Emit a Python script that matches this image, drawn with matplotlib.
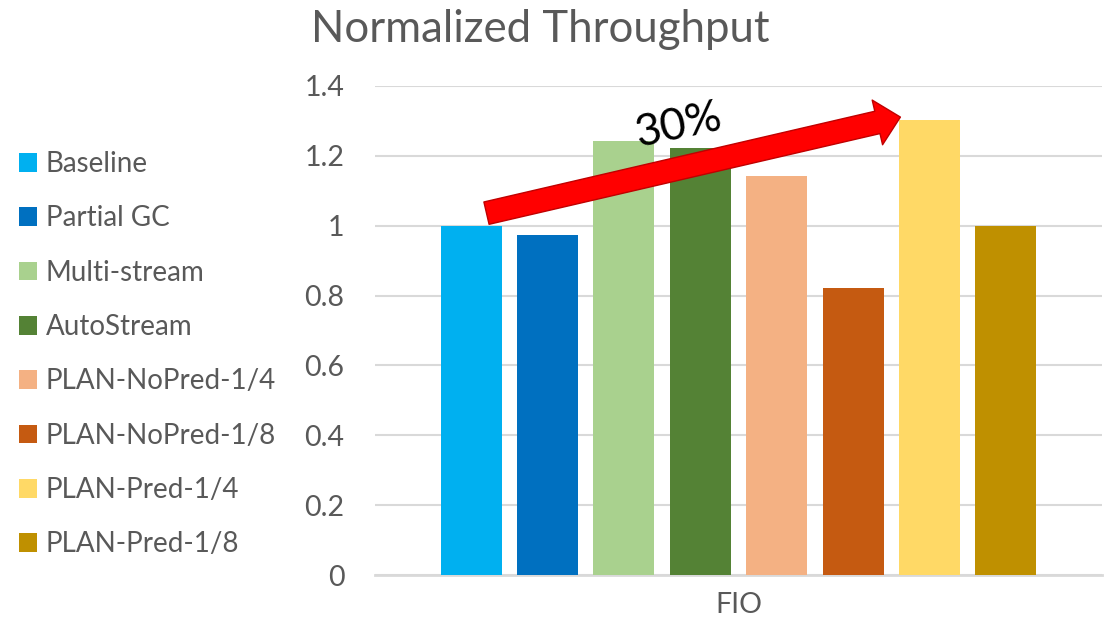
import numpy as np
import matplotlib
matplotlib.use('Agg')
import matplotlib.pyplot as plt
from matplotlib.patches import FancyArrowPatch

plt.rcParams['font.family'] = ['Lato', 'DejaVu Sans']

# data
series = ['Baseline', 'Partial GC', 'Multi-stream', 'AutoStream',
          'PLAN-NoPred-1/4', 'PLAN-NoPred-1/8', 'PLAN-Pred-1/4', 'PLAN-Pred-1/8']
throughput = [1.0, 0.973, 1.243, 1.222, 1.142, 0.822, 1.303, 1.0]
colors = ['#00B0F0', '#0070C0', '#A9D18E', '#548235',
          '#F4B183', '#C55A11', '#FFD966', '#BF9000']
category = 'FIO'

grey = '#595959'

fig = plt.figure(figsize=(11.09, 6.29), dpi=100)
ax = fig.add_axes([375/1109, 54/629, 727/1109, 489/629])

n = len(series)
pos = np.arange(n) - (n - 1) / 2
bars = []
for p, v, c, s in zip(pos, throughput, colors, series):
    b = ax.bar(p, v, width=0.8, color=c, label=s, zorder=3)
    bars.append(b)

ax.set_xlim(-4.76, 4.76)
ax.set_ylim(0, 1.4)
ax.set_yticks(np.arange(0, 1.41, 0.2))
ax.set_yticklabels(['0', '0.2', '0.4', '0.6', '0.8', '1', '1.2', '1.4'])
ax.set_xticks([0])
ax.set_xticklabels([category])
ax.tick_params(axis='both', length=0, labelsize=20.5, labelcolor=grey)
ax.tick_params(axis='y', pad=22)
ax.tick_params(axis='x', pad=12)
ax.grid(axis='y', color='#D9D9D9', linewidth=1.5, zorder=0)
for sp in ['top', 'right', 'left']:
    ax.spines[sp].set_visible(False)
ax.spines['bottom'].set_color('#D9D9D9')
ax.spines['bottom'].set_linewidth(2)

fig.text(540/1109, 1 - 30/629, 'Normalized Throughput', fontsize=31.5,
         color=grey, ha='center', va='center')

# arrow from baseline up to PLAN-Pred-1/4
arrow = FancyArrowPatch((-3.30, 1.036), (2.12, 1.311),
                        arrowstyle='simple,head_length=17,head_width=33,tail_width=16.5',
                        mutation_scale=1, shrinkA=0, shrinkB=0,
                        facecolor='#FF0000', edgecolor='#C00000', linewidth=1,
                        zorder=5)
ax.add_patch(arrow)
ax.text(-0.79, 1.285, '30%', fontsize=32, color='black', rotation=12,
        ha='center', va='center', zorder=6)

fig.legend(handles=bars, labels=series, loc='upper left',
           bbox_to_anchor=(8/1109, 1 - 140/629), frameon=False,
           fontsize=20, labelcolor=grey, handlelength=0.65, handleheight=0.65,
           handletextpad=0.3, labelspacing=1.02, borderaxespad=0)

fig.savefig('out.png', dpi=100)
